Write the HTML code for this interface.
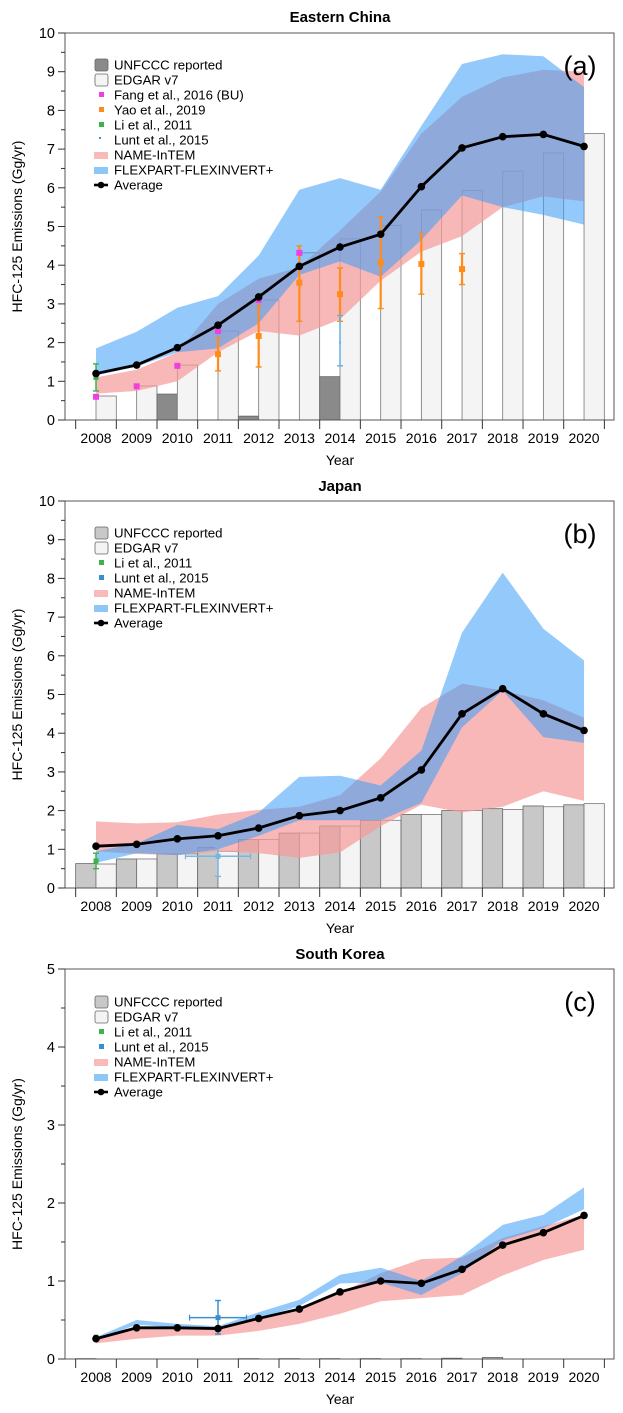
<!DOCTYPE html>
<html><head><meta charset="utf-8"><style>
html,body{margin:0;padding:0;background:#fff}
svg{display:block;font-family:"Liberation Sans",Arial,sans-serif}
</style></head><body>
<svg id="chart" width="623" height="1413" viewBox="0 0 623 1413" xmlns="http://www.w3.org/2000/svg"></svg>
<script>
const years=[2008,2009,2010,2011,2012,2013,2014,2015,2016,2017,2018,2019,2020];
// Panel a: Eastern China
const aAvg=[1.2,1.42,1.87,2.45,3.18,3.97,4.47,4.8,6.03,7.03,7.32,7.38,7.07];
const aEdgar=[0.62,0.88,1.42,2.3,3.1,4.32,4.68,5.03,5.43,5.93,6.43,6.9,7.4];
const aUnfccc=[0,0,0.67,0,0.1,0,1.12,0,0,0,0,0,0];
const aPinkLo=[0.68,0.75,1.0,1.75,2.3,2.18,2.6,3.6,4.35,4.75,5.5,5.78,5.65];
const aPinkHi=[1.1,1.3,1.75,3.0,3.65,3.95,4.9,5.9,7.4,8.35,8.85,9.05,9.0];
const aBlueLo=[1.15,1.38,1.75,1.85,2.5,3.75,4.1,3.7,4.65,5.8,5.5,5.3,5.05];
const aBlueHi=[1.85,2.28,2.9,3.2,4.25,5.95,6.25,5.95,7.6,9.2,9.45,9.4,8.6];
const aFangYears=[2008,2009,2010,2011,2012,2013];
const aFang=[0.6,0.87,1.4,2.3,3.1,4.32];
const aYaoYears=[2011,2012,2013,2014,2015,2016,2017];
const aYao=[1.7,2.17,3.55,3.25,4.07,4.03,3.9];
const aYaoLo=[1.27,1.37,2.55,2.55,2.88,3.25,3.5];
const aYaoHi=[2.12,2.95,4.5,3.93,5.25,4.82,4.3];
const aLi=[1.1],aLiLo=[0.75],aLiHi=[1.45],aLiYears=[2008];
const aLunt=[2.0],aLuntLo=[1.4],aLuntHi=[2.7],aLuntYears=[2014];
// Panel b: Japan
const bAvg=[1.08,1.13,1.27,1.35,1.55,1.87,2.0,2.33,3.05,4.5,5.15,4.5,4.07];
const bUnfccc=[0.63,0.75,0.88,1.05,1.25,1.42,1.6,1.75,1.9,2.0,2.05,2.12,2.15];
const bEdgar=[0.62,0.75,0.88,0.95,1.25,1.42,1.6,1.75,1.9,2.0,2.03,2.1,2.18];
const bPinkLo=[0.95,0.88,0.85,0.95,0.9,0.78,0.92,1.6,2.15,1.95,2.1,2.5,2.25];
const bPinkHi=[1.72,1.67,1.7,1.9,2.02,2.1,2.4,3.35,4.65,5.28,5.1,4.85,4.4];
const bBlueLo=[0.65,0.9,0.85,1.0,1.35,1.75,1.75,1.75,2.2,4.15,5.1,3.9,3.75];
const bBlueHi=[0.95,1.15,1.63,1.52,1.95,2.87,2.9,2.65,3.55,6.6,8.15,6.7,5.88];
const bLi=[0.7],bLiLo=[0.5],bLiHi=[0.9],bLiYears=[2008];
const bLunt=[0.82],bLuntLo=[0.3],bLuntHi=[1.05],bLuntYears=[2011],bLuntXLo=[2010.2],bLuntXHi=[2011.8];
// Panel c: South Korea
const cAvg=[0.26,0.4,0.4,0.39,0.52,0.64,0.86,1.0,0.97,1.15,1.46,1.62,1.84];
const cUnfccc=[0.005,0,0,0,0.005,0.005,0.005,0.005,0.005,0.01,0.02,0,0];
const cEdgar=[0,0,0,0,0,0,0,0,0,0,0,0,0];
const cPinkLo=[0.2,0.26,0.3,0.3,0.36,0.45,0.58,0.74,0.78,0.82,1.07,1.27,1.4];
const cPinkHi=[0.27,0.42,0.41,0.4,0.53,0.64,0.85,1.1,1.28,1.3,1.55,1.7,1.85];
const cBlueLo=[0.25,0.44,0.4,0.37,0.52,0.68,0.97,0.98,0.82,1.1,1.52,1.68,1.92];
const cBlueHi=[0.28,0.5,0.45,0.42,0.6,0.76,1.08,1.17,1.0,1.32,1.72,1.85,2.2];
const cLi=[0.28],cLiLo=[0.26],cLiHi=[0.3],cLiYears=[2008];
const cLunt=[0.53],cLuntLo=[0.32],cLuntHi=[0.75],cLuntYears=[2011],cLuntXLo=[2010.3],cLuntXHi=[2011.7];

const NS='http://www.w3.org/2000/svg';
const svg=document.getElementById('chart');
function mk(tag,attrs,parent,text){const e=document.createElementNS(NS,tag);for(const k in attrs)e.setAttribute(k,attrs[k]);if(text!==undefined)e.textContent=text;(parent||svg).appendChild(e);return e;}
const X=yr=>96+(yr-2008)*40.67;

function panel(p){
  const g=mk('g',{});
  
  
  const Y=v=>p.y0-(v/p.ymax)*(p.y0-p.ytop);
  const t=mk('text',{x:340,y:p.titleY,'text-anchor':'middle','font-size':15,'font-weight':'bold'},g,p.title);
  
  
  years.forEach((yr,i)=>{
    if(p.unf[i]>0){const r=mk('rect',{x:X(yr-0.5),y:Y(p.unf[i]),width:20.3,height:p.y0-Y(p.unf[i]),fill:p.unfColor,stroke:'#666','stroke-width':0.8},g);
      
      }
    if(p.edg[i]>0){const r=mk('rect',{x:X(yr),y:Y(p.edg[i]),width:20.3,height:p.y0-Y(p.edg[i]),fill:'#f4f4f4',stroke:'#777','stroke-width':0.8},g);
      
      }
  });
  function band(lo,hi,color,op,name){
    let d='M'+years.map((yr,i)=>X(yr)+','+Y(hi[i])).join('L');
    d+='L'+years.slice().reverse().map((yr,j)=>{const i=years.length-1-j;return X(yr)+','+Y(lo[i]);}).join('L')+'Z';
    const e=mk('path',{d:d,fill:color,'fill-opacity':op},g);
    
    
  }
  band(p.pLo,p.pHi,'#f59a9a',0.7,'name-intem-band');
  band(p.bLo,p.bHi,'#3a9cf7',0.55,'flexpart-band');
  function marks(ys,v,lo,hi,color,sz,name,xlo,xhi,w){
    w=w||1.5;
    ys.forEach((yr,i)=>{
      if(lo){mk('line',{x1:X(yr),x2:X(yr),y1:Y(lo[i]),y2:Y(hi[i]),stroke:color,'stroke-width':w},g);
        mk('line',{x1:X(yr)-3,x2:X(yr)+3,y1:Y(lo[i]),y2:Y(lo[i]),stroke:color,'stroke-width':1.4},g);
        mk('line',{x1:X(yr)-3,x2:X(yr)+3,y1:Y(hi[i]),y2:Y(hi[i]),stroke:color,'stroke-width':1.4},g);}
      if(xlo){mk('line',{x1:X(xlo[i]),x2:X(xhi[i]),y1:Y(v[i]),y2:Y(v[i]),stroke:color,'stroke-width':1.5},g);
        mk('line',{x1:X(xlo[i]),x2:X(xlo[i]),y1:Y(v[i])-3,y2:Y(v[i])+3,stroke:color,'stroke-width':1.2},g);
        mk('line',{x1:X(xhi[i]),x2:X(xhi[i]),y1:Y(v[i])-3,y2:Y(v[i])+3,stroke:color,'stroke-width':1.2},g);}
      const r=mk('rect',{x:X(yr)-sz/2,y:Y(v[i])-sz/2,width:sz,height:sz,fill:color},g);
      
      
    });
  }
  (p.extra||[]).forEach(m=>marks(m.ys,m.v,m.lo,m.hi,m.c,m.s,m.n,m.xlo,m.xhi,m.w));
  const ln=mk('polyline',{points:years.map((yr,i)=>X(yr)+','+Y(p.avg[i])).join(' '),fill:'none',stroke:'#000','stroke-width':2.8},g);
  
  
  years.forEach((yr,i)=>{const c=mk('circle',{cx:X(yr),cy:Y(p.avg[i]),r:3.8,fill:'#000'},g);
    
    });
  mk('rect',{x:65,y:p.ytop,width:549,height:p.y0-p.ytop,fill:'none',stroke:'#555','stroke-width':1},g);
  for(let v=0;v<=p.ymax+1e-9;v+=0.5){
    const major=Math.abs(v-Math.round(v))<1e-9;
    mk('line',{x1:major?58:61,x2:65,y1:Y(v),y2:Y(v),stroke:'#333','stroke-width':1},g);
    if(major){const tl=mk('text',{x:55,y:Y(v)+5,'text-anchor':'end','font-size':14.5},g,String(v));
      
      }
  }
  for(let k=0;k<=13;k++){const xx=X(2007.5+k);mk('line',{x1:xx,x2:xx,y1:p.y0,y2:p.y0+9,stroke:'#333','stroke-width':1},g);}
  years.forEach(yr=>{const tl=mk('text',{x:X(yr),y:p.y0+23,'text-anchor':'middle','font-size':14},g,String(yr));
    
    });
  const xt=mk('text',{x:340,y:p.y0+45,'text-anchor':'middle','font-size':14},g,'Year');
  
  
  const cy=(p.ytop+p.y0)/2;
  const yt=mk('text',{x:22,y:cy,'text-anchor':'middle','font-size':14,transform:'rotate(-90 22 '+cy+')'},g,'HFC-125 Emissions (Gg/yr)');
  
  
  const pl=mk('text',{x:580,y:p.ytop+42,'text-anchor':'middle','font-size':27},g,p.label);
  
  
  const lg=mk('g',{},g);
  
  
  p.legend.forEach((it,i)=>{
    const yy=p.legY+i*15;
    if(it.t==='box')mk('rect',{x:95,y:yy-6,width:13,height:12,rx:2,fill:it.c,stroke:'#666','stroke-width':0.8},lg);
    else if(it.t==='sq')mk('rect',{x:99,y:yy-3,width:it.s||5,height:it.s||5,fill:it.c},lg);
    else if(it.t==='band')mk('rect',{x:94,y:yy-3,width:14,height:7,fill:it.c},lg);
    else{mk('line',{x1:94,x2:108,y1:yy,y2:yy,stroke:'#000','stroke-width':2.6},lg);mk('circle',{cx:101,cy:yy,r:3.3,fill:'#000'},lg);}
    const tx=mk('text',{x:114,y:yy+4.5,'font-size':13.2},lg,it.l);
    
    
  });
}
const PINK='#f9baba',BLUE='#8ec6fa';
const legA=[{t:'box',c:'#8a8a8a',l:'UNFCCC reported'},{t:'box',c:'#f4f4f4',l:'EDGAR v7'},{t:'sq',c:'#f03ee0',l:'Fang et al., 2016 (BU)'},{t:'sq',c:'#ff8c1a',l:'Yao et al., 2019'},{t:'sq',c:'#3cb34a',l:'Li et al., 2011'},{t:'sq',c:'#3a8fd0',s:2,l:'Lunt et al., 2015'},{t:'band',c:PINK,l:'NAME-InTEM'},{t:'band',c:BLUE,l:'FLEXPART-FLEXINVERT+'},{t:'avg',l:'Average'}];
const legB=[{t:'box',c:'#c8c8c8',l:'UNFCCC reported'},{t:'box',c:'#f4f4f4',l:'EDGAR v7'},{t:'sq',c:'#3cb34a',l:'Li et al., 2011'},{t:'sq',c:'#3a8fd0',l:'Lunt et al., 2015'},{t:'band',c:PINK,l:'NAME-InTEM'},{t:'band',c:BLUE,l:'FLEXPART-FLEXINVERT+'},{t:'avg',l:'Average'}];
panel({name:'eastern-china',title:'Eastern China',label:'(a)',titleY:22,ytop:33,y0:420,ymax:10,avg:aAvg,edg:aEdgar,unf:aUnfccc,unfColor:'#8a8a8a',pLo:aPinkLo,pHi:aPinkHi,bLo:aBlueLo,bHi:aBlueHi,legY:65,legend:legA,
 extra:[{ys:aYaoYears,v:aYao,lo:aYaoLo,hi:aYaoHi,c:'#ff8c1a',s:6,n:'yao-marker',w:2.2},{ys:aFangYears,v:aFang,c:'#f03ee0',s:6,n:'fang-marker'},{ys:aLiYears,v:aLi,lo:aLiLo,hi:aLiHi,c:'#3cb34a',s:5,n:'li-marker'},{ys:aLuntYears,v:aLunt,lo:aLuntLo,hi:aLuntHi,c:'#6aaee0',s:2,n:'lunt-marker'}]});
panel({name:'japan',title:'Japan',label:'(b)',titleY:491,ytop:501,y0:888,ymax:10,avg:bAvg,edg:bEdgar,unf:bUnfccc,unfColor:'#c8c8c8',pLo:bPinkLo,pHi:bPinkHi,bLo:bBlueLo,bHi:bBlueHi,legY:533,legend:legB,
 extra:[{ys:bLiYears,v:bLi,lo:bLiLo,hi:bLiHi,c:'#3cb34a',s:5,n:'li-marker'},{ys:bLuntYears,v:bLunt,lo:bLuntLo,hi:bLuntHi,xlo:bLuntXLo,xhi:bLuntXHi,c:'#7ab4e0',s:5,n:'lunt-marker'}]});
panel({name:'south-korea',title:'South Korea',label:'(c)',titleY:959,ytop:969,y0:1359,ymax:5,avg:cAvg,edg:cEdgar,unf:cUnfccc,unfColor:'#c8c8c8',pLo:cPinkLo,pHi:cPinkHi,bLo:cBlueLo,bHi:cBlueHi,legY:1002,legend:legB,
 extra:[{ys:cLiYears,v:cLi,c:'#3cb34a',s:5,n:'li-marker'},{ys:cLuntYears,v:cLunt,lo:cLuntLo,hi:cLuntHi,xlo:cLuntXLo,xhi:cLuntXHi,c:'#3a8fd0',s:5,n:'lunt-marker'}]});
</script>
</body></html>
